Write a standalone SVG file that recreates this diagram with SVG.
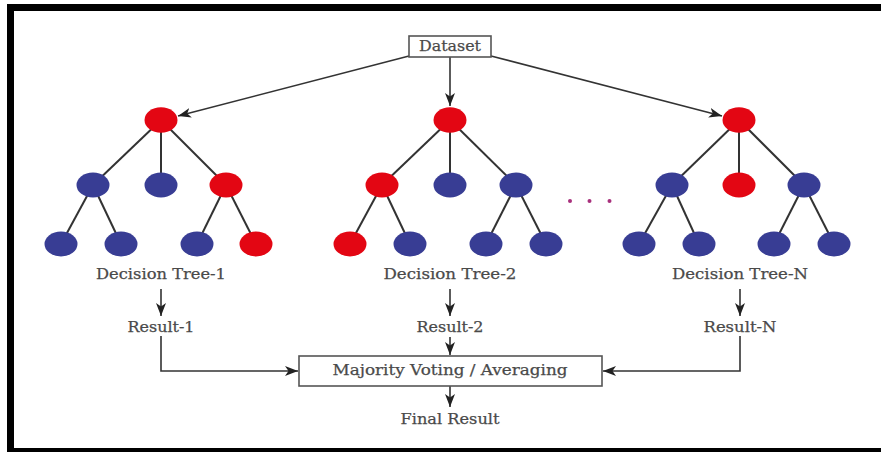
<svg xmlns="http://www.w3.org/2000/svg" width="881" height="452" viewBox="0 0 881 452">
  <style>
    .lbl { font-family: "DejaVu Serif", "Liberation Serif", serif; font-size: 15px; fill: #4a4a4a; stroke: #4a4a4a; stroke-width: 0.25; text-anchor: middle; }
    .edge { stroke: #333; stroke-width: 2; fill: none; }
    .arrow { stroke: #333; stroke-width: 1.6; fill: none; marker-end: url(#head); }
    .box { fill: #fff; stroke: #555; stroke-width: 1.6; }
    .red { fill: #e30613; }
    .blue { fill: #383d94; }
  </style>
  <defs>
    <marker id="head" markerUnits="userSpaceOnUse" markerWidth="14" markerHeight="11" refX="13" refY="5" orient="auto">
      <path d="M0,0 L13,5 L0,10 L3.5,5 Z" fill="#222"/>
    </marker>
  </defs>

  <rect width="881" height="452" fill="#fff"/>

  <!-- frame -->
  <g id="frame" fill="#000">
    <rect x="7" y="4" width="874" height="7"/>
    <rect x="7" y="4" width="7" height="448"/>
    <rect x="7" y="448" width="874" height="4"/>
  </g>

  <!-- connectors -->
  <g id="connectors">
    <line class="arrow" x1="409" y1="56" x2="178" y2="116"/>
    <line class="arrow" x1="450" y1="57" x2="450" y2="106"/>
    <line class="arrow" x1="491" y1="56" x2="722" y2="116"/>

    <line class="arrow" x1="161" y1="289" x2="161" y2="316"/>
    <line class="arrow" x1="450" y1="289" x2="450" y2="316"/>
    <line class="arrow" x1="740" y1="289" x2="740" y2="316"/>

    <polyline class="arrow" points="161,336 161,371 298,371"/>
    <polyline class="arrow" points="740,336 740,371 603,371"/>
    <line class="arrow" x1="450" y1="337" x2="450" y2="355"/>
    <line class="arrow" x1="450" y1="386" x2="450" y2="407"/>
  </g>

  <!-- Dataset -->
  <g id="dataset">
    <rect class="box" x="409" y="36" width="82" height="21"/>
    <text class="lbl" x="450" y="51" textLength="62" lengthAdjust="spacingAndGlyphs">Dataset</text>
  </g>

  <!-- Decision Tree-1 -->
  <g id="tree-1">
    <g class="edge">
      <line x1="161" y1="120" x2="93" y2="185"/>
      <line x1="161" y1="120" x2="161" y2="185"/>
      <line x1="161" y1="120" x2="226" y2="185"/>
      <line x1="93" y1="185" x2="61" y2="244"/>
      <line x1="93" y1="185" x2="121" y2="244"/>
      <line x1="226" y1="185" x2="197" y2="244"/>
      <line x1="226" y1="185" x2="256" y2="244"/>
    </g>
    <ellipse class="red" cx="161" cy="120" rx="16.5" ry="12.7"/>
    <ellipse class="blue" cx="93" cy="185" rx="16.5" ry="12.5"/>
    <ellipse class="blue" cx="161" cy="185" rx="16.5" ry="12.5"/>
    <ellipse class="red" cx="226" cy="185" rx="16.5" ry="12.5"/>
    <ellipse class="blue" cx="61" cy="244" rx="16.5" ry="12.5"/>
    <ellipse class="blue" cx="121" cy="244" rx="16.5" ry="12.5"/>
    <ellipse class="blue" cx="197" cy="244" rx="16.5" ry="12.5"/>
    <ellipse class="red" cx="256" cy="244" rx="16.5" ry="12.5"/>
    <text class="lbl" x="161" y="279" textLength="130" lengthAdjust="spacingAndGlyphs">Decision Tree-1</text>
  </g>

  <!-- Decision Tree-2 -->
  <g id="tree-2">
    <g class="edge">
      <line x1="450" y1="120" x2="382" y2="185"/>
      <line x1="450" y1="120" x2="450" y2="185"/>
      <line x1="450" y1="120" x2="516" y2="185"/>
      <line x1="382" y1="185" x2="350" y2="244"/>
      <line x1="382" y1="185" x2="410" y2="244"/>
      <line x1="516" y1="185" x2="486" y2="244"/>
      <line x1="516" y1="185" x2="546" y2="244"/>
    </g>
    <ellipse class="red" cx="450" cy="120" rx="16.5" ry="12.7"/>
    <ellipse class="red" cx="382" cy="185" rx="16.5" ry="12.5"/>
    <ellipse class="blue" cx="450" cy="185" rx="16.5" ry="12.5"/>
    <ellipse class="blue" cx="516" cy="185" rx="16.5" ry="12.5"/>
    <ellipse class="red" cx="350" cy="244" rx="16.5" ry="12.5"/>
    <ellipse class="blue" cx="410" cy="244" rx="16.5" ry="12.5"/>
    <ellipse class="blue" cx="486" cy="244" rx="16.5" ry="12.5"/>
    <ellipse class="blue" cx="546" cy="244" rx="16.5" ry="12.5"/>
    <text class="lbl" x="450" y="279" textLength="133" lengthAdjust="spacingAndGlyphs">Decision Tree-2</text>
  </g>

  <!-- ellipsis between trees -->
  <g id="more" fill="#a8307c">
    <circle cx="570" cy="201" r="2"/>
    <circle cx="589.5" cy="201" r="2"/>
    <circle cx="609.5" cy="201" r="2"/>
  </g>

  <!-- Decision Tree-N -->
  <g id="tree-n">
    <g class="edge">
      <line x1="739" y1="120" x2="672" y2="185"/>
      <line x1="739" y1="120" x2="739" y2="185"/>
      <line x1="739" y1="120" x2="804" y2="185"/>
      <line x1="672" y1="185" x2="639" y2="244"/>
      <line x1="672" y1="185" x2="699" y2="244"/>
      <line x1="804" y1="185" x2="774" y2="244"/>
      <line x1="804" y1="185" x2="834" y2="244"/>
    </g>
    <ellipse class="red" cx="739" cy="120" rx="16.5" ry="12.7"/>
    <ellipse class="blue" cx="672" cy="185" rx="16.5" ry="12.5"/>
    <ellipse class="red" cx="739" cy="185" rx="16.5" ry="12.5"/>
    <ellipse class="blue" cx="804" cy="185" rx="16.5" ry="12.5"/>
    <ellipse class="blue" cx="639" cy="244" rx="16.5" ry="12.5"/>
    <ellipse class="blue" cx="699" cy="244" rx="16.5" ry="12.5"/>
    <ellipse class="blue" cx="774" cy="244" rx="16.5" ry="12.5"/>
    <ellipse class="blue" cx="834" cy="244" rx="16.5" ry="12.5"/>
    <text class="lbl" x="740" y="279" textLength="136" lengthAdjust="spacingAndGlyphs">Decision Tree-N</text>
  </g>

  <!-- results -->
  <g id="result-1"><text class="lbl" x="161" y="332" textLength="67" lengthAdjust="spacingAndGlyphs">Result-1</text></g>
  <g id="result-2"><text class="lbl" x="450" y="332" textLength="67" lengthAdjust="spacingAndGlyphs">Result-2</text></g>
  <g id="result-n"><text class="lbl" x="740" y="332" textLength="73" lengthAdjust="spacingAndGlyphs">Result-N</text></g>

  <!-- aggregation -->
  <g id="voting">
    <rect class="box" x="299" y="356" width="303" height="30"/>
    <text class="lbl" x="450" y="375" textLength="235" lengthAdjust="spacingAndGlyphs">Majority Voting / Averaging</text>
  </g>

  <g id="final-result"><text class="lbl" x="450" y="424" textLength="99" lengthAdjust="spacingAndGlyphs">Final Result</text></g>
</svg>
